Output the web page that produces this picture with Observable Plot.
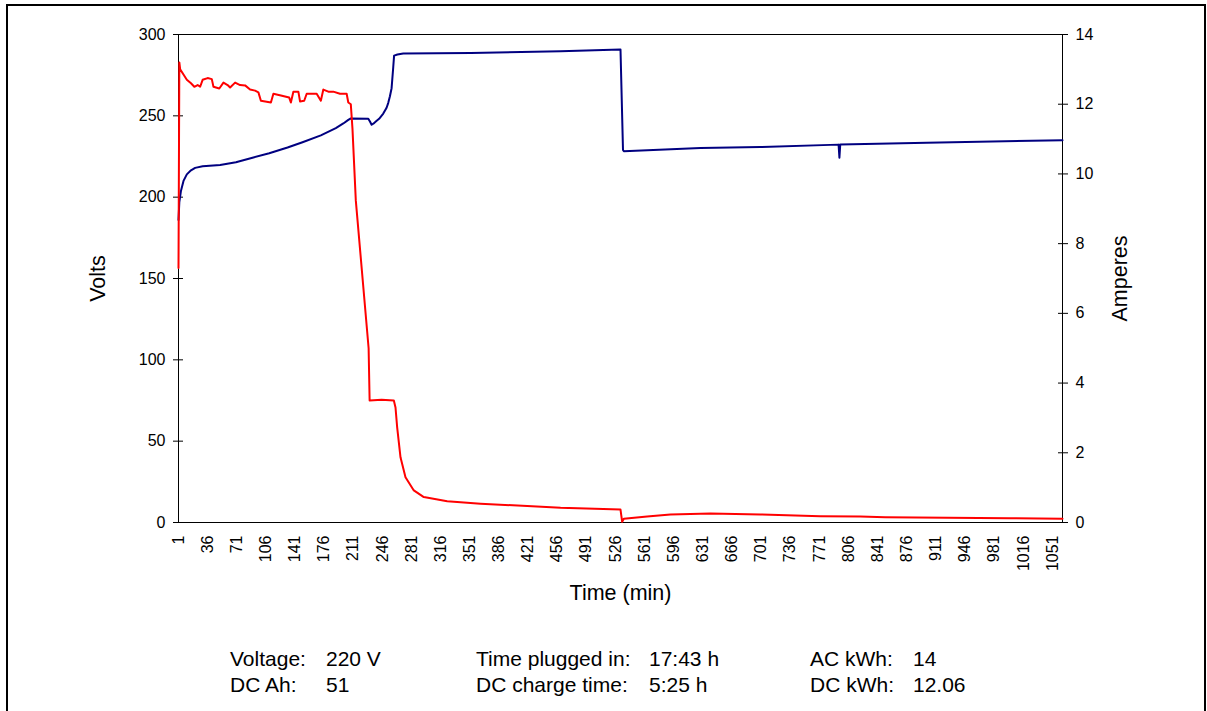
<!DOCTYPE html>
<html><head><meta charset="utf-8">
<script src="https://cdn.jsdelivr.net/npm/d3@7"></script>
<script src="https://cdn.jsdelivr.net/npm/@observablehq/plot@0.6"></script>
<style>
html,body{margin:0;padding:0;background:#fff;overflow:hidden;width:1207px;height:711px;}
body{position:relative;font-family:"Liberation Sans",Arial,sans-serif;}
#frame{position:absolute;left:6px;top:4px;width:1200px;height:800px;border:2px solid #000;box-sizing:border-box;}
#chart{position:absolute;left:0;top:0;}
.ft{position:absolute;font-size:21px;line-height:20px;white-space:pre;color:#000;}
</style></head><body>
<div id="frame"></div>
<div id="chart"></div>
<script>
// ---- data ----
const xTicks = [1,36,71,106,141,176,211,246,281,316,351,386,421,456,491,526,561,596,631,666,701,736,771,806,841,876,911,946,981,1016,1051];
const voltTicks = [0,50,100,150,200,250,300];
const ampTicks = [0,2,4,6,8,10,12,14];

const voltTime = [1,2,4,7,11,16,21,30,51,70,91,110,132,150,172,190,199,205,208,229,231,233,236,238,242,247,251,253,255,257,259,260,264,271,352,460,532,535,536,628,700,794,795,796,900,1063];
const voltVals = [186,197,204,210,214,216.5,218,219,219.8,221.5,224.4,227,230.5,233.8,238,242.5,245.3,247.5,248.4,248.2,246.5,244.5,245.5,246.5,248.2,251.4,255,258,262,267,280,287,287.7,288.3,288.6,289.7,290.8,229,228.3,230.3,230.8,232.3,224.2,232.4,233.5,235];

const ampTime = [1,2,3,7,11,16,20,24,27,30,36,41,43,50,55,60,63,69,75,81,87,93,97,100,112,115,124,134,136,139,145,147,152,155,160,167,172,175,181,187,195,203,205,208,210,214,229.4,230.6,245,259.7,261.7,263.7,267.7,273.7,283.7,295.7,323.8,363.8,420,460,532,534,536,564,592,640,700,772,820,850,1000,1063];
const ampVals = [7.3,13.2,13.0,12.85,12.7,12.6,12.5,12.55,12.5,12.7,12.75,12.72,12.5,12.45,12.62,12.55,12.48,12.62,12.55,12.54,12.42,12.39,12.34,12.1,12.05,12.3,12.25,12.19,12.05,12.36,12.36,12.08,12.1,12.3,12.3,12.3,12.1,12.42,12.36,12.36,12.3,12.3,12.05,12.0,11.3,9.24,5.0,3.5,3.52,3.5,3.3,2.73,1.87,1.3,0.92,0.73,0.61,0.54,0.47,0.42,0.37,0.02,0.11,0.17,0.23,0.26,0.23,0.18,0.17,0.15,0.12,0.11];

const footerLabels = ["Voltage:","DC Ah:","Time plugged in:","DC charge time:","AC kWh:","DC kWh:"];
const footerValues = ["220 V","51","17:43 h","5:25 h","14","12.06"];

// ---- build ----
const ampMax = 14, voltMax = 300;
const ampToVolt = a => a * voltMax / ampMax;
const voltData = voltTime.map((t, i) => ({t, v: voltVals[i]}));
const ampData = ampTime.map((t, i) => ({t, v: ampToVolt(ampVals[i])}));
const font = '"Liberation Sans", Arial, sans-serif';

const chart = Plot.plot({
  width: 1207, height: 620,
  marginLeft: 178, marginRight: 145, marginTop: 34, marginBottom: 98,
  style: {fontFamily: font, fontSize: "16px", color: "#000", background: "transparent", overflow: "visible"},
  x: {domain: [1, 1063]},
  y: {domain: [0, voltMax]},
  marks: [
    Plot.frame({stroke: "#000", strokeWidth: 1}),
    Plot.axisX({ticks: xTicks, tickRotate: -90, tickSize: 0, tickPadding: 13, fontSize: 16, label: null, tickFormat: d => String(d)}),
    Plot.axisY({anchor: "left", ticks: voltTicks, tickSize: 5, tickPadding: 8, fontSize: 16, label: null, tickFormat: d => String(d)}),
    Plot.axisY({anchor: "left", ticks: voltTicks, tickSize: 5, dx: 5, label: null, tickFormat: () => ""}),
    Plot.axisY({anchor: "right", ticks: ampTicks.map(ampToVolt), tickSize: 5, tickPadding: 8, fontSize: 16, label: null, tickFormat: v => String(Math.round(v * ampMax / voltMax))}),
    Plot.axisY({anchor: "right", ticks: ampTicks.map(ampToVolt), tickSize: 5, dx: -5, label: null, tickFormat: () => ""}),
    Plot.lineY(voltData, {x: "t", y: "v", stroke: "#000080", strokeWidth: 2}),
    Plot.lineY(ampData, {x: "t", y: "v", stroke: "#ff0000", strokeWidth: 2}),
    Plot.text(["Volts"], {frameAnchor: "left", dx: -80, rotate: -90, fontSize: 21.5, textAnchor: "middle", lineAnchor: "middle"}),
    Plot.text(["Amperes"], {frameAnchor: "right", dx: 58, rotate: -90, fontSize: 21.5, textAnchor: "middle", lineAnchor: "middle"}),
    Plot.text(["Time (min)"], {frameAnchor: "bottom", dy: 71, fontSize: 21.5, textAnchor: "middle", lineAnchor: "middle"})
  ]
});
document.getElementById("chart").appendChild(chart);

// footer
const colX = [[230, 326], [476, 649], [810, 913]];
const rowTop = [649, 675];
footerLabels.forEach((lab, i) => {
  const c = Math.floor(i / 2), r = i % 2;
  const a = document.createElement("div");
  a.className = "ft"; a.textContent = lab;
  a.style.left = colX[c][0] + "px"; a.style.top = rowTop[r] + "px";
  document.body.appendChild(a);
  const b = document.createElement("div");
  b.className = "ft"; b.textContent = footerValues[i];
  b.style.left = colX[c][1] + "px"; b.style.top = rowTop[r] + "px";
  document.body.appendChild(b);
});
</script>
</body></html>
